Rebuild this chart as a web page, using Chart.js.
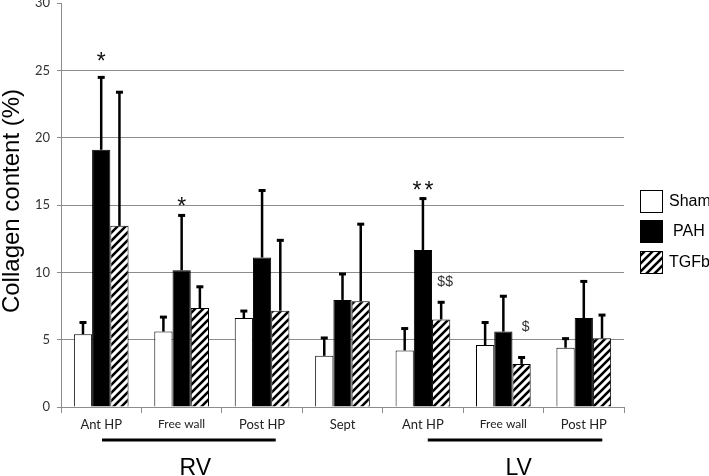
<!DOCTYPE html>
<html>
<head>
<meta charset="utf-8">
<script src="https://cdn.jsdelivr.net/npm/chart.js@4.4.1/dist/chart.umd.min.js"></script>
<style>
  html, body { margin: 0; background: #fff; }
</style>
</head>
<body>
<canvas id="grafica" width="709" height="476"></canvas>
<script>
// === datos ===
const categorias = ["Ant HP", "Free wall", "Post HP", "Sept", "Ant HP", "Free wall", "Post HP"];

const shamMedia = [5.4, 5.6, 6.6, 3.8, 4.2, 4.6, 4.4];
const shamError = [0.95, 1.15, 0.6, 1.4, 1.7, 1.75, 0.75];

const pahMedia = [19.1, 10.15, 11.1, 7.95, 11.65, 5.6, 6.6];
const pahError = [5.45, 4.15, 5.05, 2.0, 3.9, 2.7, 2.8];

const tgfbMedia = [13.45, 7.35, 7.15, 7.85, 6.5, 3.2, 5.1];
const tgfbError = [10.0, 1.65, 5.3, 5.8, 1.35, 0.55, 1.8];

const yTicks = [0, 5, 10, 15, 20, 25, 30];

// marcas de significancia
const marcasTexto = ["*", "*", "**", "$$", "$"];
const marcasCategoria = [0, 1, 4, 4, 5];
const marcasSerie = [1, 1, 1, 2, 2];
const marcasValor = [26.1, 15.3, 16.5, 9.3, 5.95];

// grupos bajo el eje
const grupos = ["RV", "LV"];
const gruposDesde = [0.01, 4.06];
const gruposHasta = [2.17, 6.23];
const gruposCentro = [1.17, 5.19];

// patrón rayado para TGFb
function crearRayado() {
  const c = document.createElement("canvas");
  c.width = 8; c.height = 8;
  const g = c.getContext("2d");
  g.fillStyle = "#fff";
  g.fillRect(0, 0, 8, 8);
  g.strokeStyle = "#000";
  g.lineWidth = 2.6;
  g.beginPath();
  g.moveTo(-2, 10); g.lineTo(10, -2);
  g.moveTo(-2, 2); g.lineTo(2, -2);
  g.moveTo(6, 10); g.lineTo(10, 6);
  g.stroke();
  return g.createPattern(c, "repeat");
}
const rayado = crearRayado();

const errores = [shamError, pahError, tgfbError];

const barrasError = {
  id: "barrasError",
  afterDatasetsDraw(chart) {
    const ctx = chart.ctx;
    const y = chart.scales.y;
    ctx.save();
    ctx.strokeStyle = "#000";
    chart.data.datasets.forEach((ds, i) => {
      const meta = chart.getDatasetMeta(i);
      meta.data.forEach((bar, j) => {
        const top = y.getPixelForValue(ds.data[j] + errores[i][j]);
        ctx.lineWidth = 2.5;
        ctx.beginPath();
        ctx.moveTo(bar.x, bar.y);
        ctx.lineTo(bar.x, top);
        ctx.stroke();
        ctx.lineWidth = 3;
        ctx.beginPath();
        ctx.moveTo(bar.x - 3.5, top + 1);
        ctx.lineTo(bar.x + 3.5, top + 1);
        ctx.stroke();
      });
    });
    ctx.restore();
  }
};

const extras = {
  id: "extras",
  afterDraw(chart) {
    const ctx = chart.ctx;
    const x = chart.scales.x;
    const y = chart.scales.y;
    ctx.save();

    // marcas * y $
    ctx.textAlign = "center";
    marcasTexto.forEach((t, k) => {
      const bar = chart.getDatasetMeta(marcasSerie[k]).data[marcasCategoria[k]];
      const py = y.getPixelForValue(marcasValor[k]);
      if (t.includes("*")) {
        ctx.font = "23px 'Liberation Sans', Arial, sans-serif";
        ctx.fillStyle = "#111";
        ctx.textBaseline = "alphabetic";
        ctx.letterSpacing = t.length > 1 ? "3px" : "0px";
        ctx.fillText(t, bar.x + (t.length > 1 ? 1.5 : 0), py + 13);
        ctx.letterSpacing = "0px";
      } else {
        ctx.font = "14px 'Liberation Sans', Arial, sans-serif";
        ctx.fillStyle = "#333";
        ctx.textBaseline = "middle";
        ctx.fillText(t, bar.x + 4, py);
      }
    });

    // líneas y nombres de grupo
    ctx.strokeStyle = "#000";
    ctx.lineWidth = 3;
    ctx.fillStyle = "#000";
    ctx.font = "23px 'Liberation Sans', Arial, sans-serif";
    ctx.textBaseline = "alphabetic";
    grupos.forEach((g, k) => {
      ctx.beginPath();
      ctx.moveTo(x.getPixelForValue(gruposDesde[k]), 440);
      ctx.lineTo(x.getPixelForValue(gruposHasta[k]), 440);
      ctx.stroke();
      ctx.fillText(g, x.getPixelForValue(gruposCentro[k]), 475);
    });

    // título eje y
    ctx.save();
    ctx.translate(19, 201);
    ctx.rotate(-Math.PI / 2);
    ctx.font = "24px 'Liberation Sans', Arial, sans-serif";
    ctx.fillText("Collagen content (%)", 0, 0);
    ctx.restore();

    // leyenda
    const cajas = [190, 220, 251];
    ctx.lineWidth = 1;
    ctx.font = "16px 'Liberation Sans', Arial, sans-serif";
    ctx.textAlign = "left";
    ctx.textBaseline = "middle";
    chart.data.datasets.forEach((ds, i) => {
      ctx.fillStyle = ds.backgroundColor;
      ctx.fillRect(640, cajas[i], 23, 23);
      ctx.strokeRect(640.5, cajas[i] + 0.5, 22, 22);
      ctx.fillStyle = "#000";
      ctx.fillText(ds.label, i === 1 ? 673 : 669, cajas[i] + 12);
    });

    ctx.restore();
  }
};

new Chart(document.getElementById("grafica"), {
  type: "bar",
  data: {
    labels: categorias,
    datasets: [
      { label: "Sham", data: shamMedia, backgroundColor: "#fff" },
      { label: "PAH", data: pahMedia, backgroundColor: "#000" },
      { label: "TGFb", data: tgfbMedia, backgroundColor: rayado }
    ]
  },
  options: {
    responsive: false,
    animation: false,
    layout: { padding: { left: 0, right: 85, top: 3, bottom: 0 } },
    datasets: {
      bar: {
        borderColor: "#000",
        borderWidth: 1,
        categoryPercentage: 0.68,
        barPercentage: 1
      }
    },
    plugins: {
      legend: { display: false },
      tooltip: { enabled: false }
    },
    scales: {
      x: {
        grid: {
          offset: true,
          drawOnChartArea: false,
          tickLength: 6,
          color: "#8c8c8c"
        },
        border: { color: "#8c8c8c" },
        ticks: {
          color: "#222",
          padding: 4,
          font: (c) => ({
            family: "Lato, 'Open Sans', sans-serif",
            size: c.tick && c.tick.label === "Free wall" ? 12 : 13
          })
        },
        afterFit(s) {
          s.height = 69;
          s.paddingLeft = 0;
          s.paddingRight = 0;
        }
      },
      y: {
        min: 0,
        max: 30,
        afterBuildTicks(s) {
          s.ticks = yTicks.map(v => ({ value: v }));
        },
        grid: {
          color: (c) => (c.tick && c.tick.value === 30 ? "rgba(0,0,0,0)" : "#8c8c8c"),
          tickColor: "#8c8c8c",
          tickLength: 4
        },
        border: { color: "#8c8c8c" },
        ticks: {
          color: "#333",
          padding: 7,
          font: { family: "Lato, 'Open Sans', sans-serif", size: 13 }
        },
        afterFit(s) {
          s.width = 61;
          s.paddingTop = 0;
          s.paddingBottom = 0;
        }
      }
    }
  },
  plugins: [barrasError, extras]
});
</script>
</body>
</html>
